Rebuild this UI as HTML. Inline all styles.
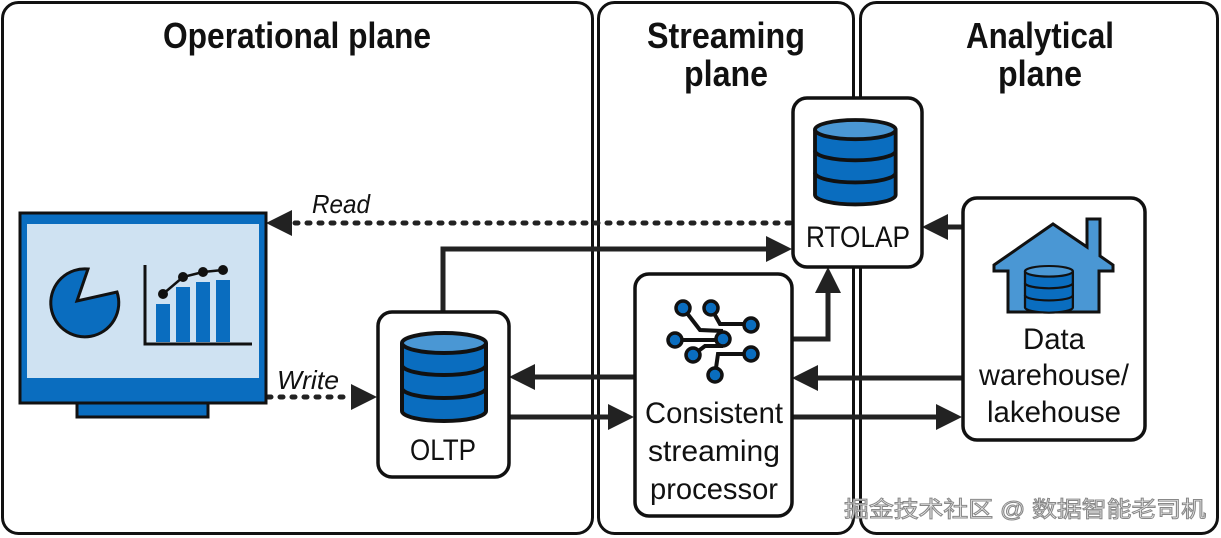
<!DOCTYPE html>
<html><head><meta charset="utf-8"><style>
html,body{margin:0;padding:0;background:#fff;}
svg{display:block;}
text{font-family:"Liberation Sans","Noto Sans CJK SC",sans-serif;fill:#111;}
</style></head><body>
<svg width="1221" height="538" viewBox="0 0 1221 538" xmlns="http://www.w3.org/2000/svg">
<defs>
<g id="db">
  <path d="M0,10 L0,78 A42,10 0 0 0 84,78 L84,10" fill="#0a6dbf" stroke="#111" stroke-width="4"/>
  <path d="M0,32 A42,10 0 0 0 84,32 M0,55 A42,10 0 0 0 84,55" fill="none" stroke="#111" stroke-width="4"/>
  <ellipse cx="42" cy="10" rx="42" ry="10" fill="#4a97d4" stroke="#111" stroke-width="4"/>
</g>
</defs>
<g fill="none" stroke="#111" stroke-width="3">
<rect x="2.5" y="2.5" width="590" height="531" rx="16"/>
<rect x="598.5" y="2.5" width="255" height="531" rx="16"/>
<rect x="860.5" y="2.5" width="357" height="531" rx="16"/>
</g>
<g font-weight="bold" font-size="36" text-anchor="middle">
<text x="297" y="48" textLength="268" lengthAdjust="spacingAndGlyphs">Operational plane</text>
<text x="726" y="48" textLength="158" lengthAdjust="spacingAndGlyphs">Streaming</text>
<text x="726" y="86" textLength="84" lengthAdjust="spacingAndGlyphs">plane</text>
<text x="1040" y="48" textLength="148" lengthAdjust="spacingAndGlyphs">Analytical</text>
<text x="1040" y="86" textLength="84" lengthAdjust="spacingAndGlyphs">plane</text>
</g>
<g stroke="#222" stroke-width="5" fill="none">
<path d="M790,223 L290,223" stroke-dasharray="3,9" stroke-linecap="round"/>
<path d="M268,397 L352,397" stroke-dasharray="3,9" stroke-linecap="round"/>
<path d="M443,311 L443,249 L772,249"/>
<path d="M792,339 L828,339 L828,287"/>
<path d="M962,227 L942,227"/>
<path d="M634,377 L530,377"/>
<path d="M509,417 L614,417"/>
<path d="M962,378 L814,378"/>
<path d="M792,417 L942,417"/>
</g>
<g fill="#222">
<path d="M266,223 L292,210 L292,236Z"/>
<path d="M377,397 L351,384 L351,410Z"/>
<path d="M792,249 L766,236 L766,262Z"/>
<path d="M828,267 L815,293 L841,293Z"/>
<path d="M922,227 L948,214 L948,240Z"/>
<path d="M509,377 L535,364 L535,390Z"/>
<path d="M634,417 L608,404 L608,430Z"/>
<path d="M792,378 L818,365 L818,391Z"/>
<path d="M962,417 L936,404 L936,430Z"/>
</g>
<text x="312" y="213" font-size="26" font-style="italic" textLength="58" lengthAdjust="spacingAndGlyphs">Read</text>
<text x="277" y="389" font-size="26" font-style="italic" textLength="62" lengthAdjust="spacingAndGlyphs">Write</text>
<rect x="77" y="401" width="131" height="16" fill="#0a6dbf" stroke="#111" stroke-width="3"/>
<rect x="20" y="213" width="246" height="190" fill="#0a6dbf" stroke="#111" stroke-width="3"/>
<rect x="27" y="224" width="232" height="154" fill="#cfe2f2"/>
<path d="M88,269 L77,301 L117,292 A34,34 0 1 1 88,269Z" fill="#0a6dbf" stroke="#111" stroke-width="3"/>
<path d="M145,265 L145,344 L252,344" fill="none" stroke="#111" stroke-width="3"/>
<g fill="#0a6dbf"><rect x="156" y="304" width="14" height="38"/><rect x="176" y="287" width="14" height="55"/><rect x="196" y="282" width="14" height="60"/><rect x="216" y="280" width="14" height="62"/></g>
<path d="M163,294 L183,277 L203,272 L223,270" fill="none" stroke="#111" stroke-width="2.5"/>
<g fill="#111"><circle cx="163" cy="294" r="5"/><circle cx="183" cy="277" r="5"/><circle cx="203" cy="272" r="5"/><circle cx="223" cy="270" r="5"/></g>
<rect x="378" y="312" width="131" height="165" rx="14" fill="#fff" stroke="#111" stroke-width="3.5"/>
<use href="#db" x="402" y="333"/>
<text x="443" y="460" font-size="30" text-anchor="middle" textLength="66" lengthAdjust="spacingAndGlyphs">OLTP</text>
<rect x="793" y="98" width="129" height="169" rx="14" fill="#fff" stroke="#111" stroke-width="3.5"/>
<use href="#db" x="815" y="120" transform="translate(815 120) scale(0.96) translate(-815 -120)"/>
<text x="858" y="247" font-size="30" text-anchor="middle" textLength="104" lengthAdjust="spacingAndGlyphs">RTOLAP</text>
<rect x="635" y="274" width="157" height="242" rx="14" fill="#fff" stroke="#111" stroke-width="3.5"/>
<g fill="none" stroke="#111" stroke-width="4">
<path d="M683,308 L700,330 L723,331"/><path d="M711,308 L720,324 L751,324"/><path d="M675,340 L723,340"/><path d="M693,355 L705,346 L723,346"/><path d="M751,354 L718,354 L715,375"/>
</g>
<g fill="#0a6dbf" stroke="#111" stroke-width="3.5">
<circle cx="683" cy="308" r="7"/><circle cx="711" cy="308" r="7"/><circle cx="751" cy="325" r="7"/><circle cx="675" cy="340" r="7"/><circle cx="723" cy="339" r="7"/><circle cx="693" cy="355" r="7"/><circle cx="751" cy="354" r="7"/><circle cx="715" cy="375" r="7"/>
</g>
<g font-size="30" text-anchor="middle">
<text x="714" y="423" textLength="138" lengthAdjust="spacingAndGlyphs">Consistent</text>
<text x="714" y="461" textLength="132" lengthAdjust="spacingAndGlyphs">streaming</text>
<text x="714" y="499" textLength="128" lengthAdjust="spacingAndGlyphs">processor</text>
</g>
<rect x="963" y="198" width="182" height="242" rx="14" fill="#fff" stroke="#111" stroke-width="3.5"/>
<path d="M994,265 L1053,224 L1087,247 L1087,219 L1100,219 L1100,256 L1113,265 L1113,271 L1099,271 L1099,312 L1008,312 L1008,271 L994,271Z" fill="#4a97d4" stroke="#111" stroke-width="3"/>
<g transform="translate(1025 266) scale(0.57 0.53)"><use href="#db"/></g>
<g font-size="30" text-anchor="middle">
<text x="1054" y="349" textLength="62" lengthAdjust="spacingAndGlyphs">Data</text>
<text x="1054" y="385" textLength="150" lengthAdjust="spacingAndGlyphs">warehouse/</text>
<text x="1054" y="422" textLength="134" lengthAdjust="spacingAndGlyphs">lakehouse</text>
</g>
<text x="844" y="517" font-size="22" stroke="#888" stroke-width="1" textLength="362" lengthAdjust="spacingAndGlyphs" style="fill:#f4f4f4">掘金技术社区 @ 数据智能老司机</text>
</svg>
</body></html>
